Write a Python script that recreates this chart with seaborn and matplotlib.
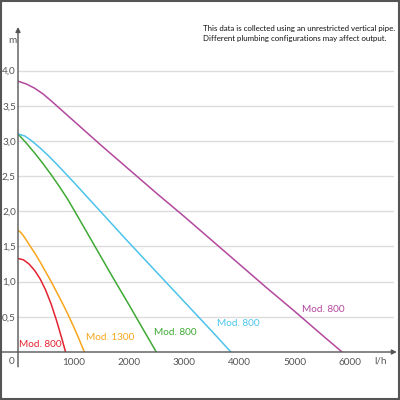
import seaborn as sns
import matplotlib.pyplot as plt
import pandas as pd

# pump curves: flow (l/h) vs head (m)
red_q = [0, 100, 200, 300, 400, 500, 600, 700, 800, 860]
red_h = [1.33, 1.31, 1.25, 1.16, 1.04, 0.88, 0.68, 0.44, 0.17, 0.0]

orange_q = [0, 50, 100, 200, 300, 400, 500, 600, 700, 800, 900, 1000, 1100, 1200]
orange_h = [1.73, 1.70, 1.65, 1.53, 1.41, 1.28, 1.14, 1.00, 0.85, 0.70, 0.54, 0.37, 0.19, 0.0]

green_q = [0, 150, 300, 450, 600, 750, 900, 1100, 1400, 1700, 2000, 2250, 2500]
green_h = [3.10, 2.97, 2.83, 2.68, 2.52, 2.35, 2.17, 1.90, 1.49, 1.08, 0.68, 0.34, 0.0]

blue_q = [0, 125, 250, 400, 550, 700, 1000, 1500, 2000, 2500, 3000, 3500, 3850]
blue_h = [3.10, 3.07, 3.00, 2.90, 2.79, 2.67, 2.42, 1.99, 1.56, 1.14, 0.72, 0.30, 0.0]

purple_q = [0, 150, 300, 450, 600, 800, 1000, 1500, 2000, 2500, 3000, 3500, 4000,
            4500, 5000, 5500, 5860]
purple_h = [3.85, 3.81, 3.75, 3.67, 3.57, 3.43, 3.29, 2.94, 2.60, 2.26, 1.93, 1.59, 1.25,
            0.91, 0.58, 0.24, 0.0]

series = [
    ("Mod. 800", red_q, red_h, "#e52230"),
    ("Mod. 1300", orange_q, orange_h, "#f7a51c"),
    ("Mod. 800", green_q, green_h, "#3ea935"),
    ("Mod. 800", blue_q, blue_h, "#4cc3eb"),
    ("Mod. 800", purple_q, purple_h, "#b3489d"),
]
# label anchor (flow, head) for each curve's text
label_pos = [(18, 0.10), (1230, 0.20), (2460, 0.28), (3600, 0.41), (5135, 0.60)]

x_ticks = [1000, 2000, 3000, 4000, 5000, 6000]
y_ticks = [0.5, 1.0, 1.5, 2.0, 2.5, 3.0, 3.5, 4.0]
y_labels = ["0,5", "1,0", "1,5", "2,0", "2,5", "3,0", "3,5", "4,0"]

note = ("This data is collected using an unrestricted vertical pipe.\n"
        "Different plumbing configurations may affect output.")

sns.set_theme(style="white")
plt.rcParams['font.family'] = ['Lato', 'DejaVu Sans']

fig = plt.figure(figsize=(4, 4), dpi=100)
ax = fig.add_axes([0.045, 0.12, 0.9425, 0.8125])
ax.set_xlim(0, 6817)
ax.set_ylim(0, 4.62)

for y in y_ticks:
    ax.axhline(y, xmin=0, xmax=0.995, color="#dcdcdc", lw=1, zorder=0)

for (name, q, h, col), (lx, ly) in zip(series, label_pos):
    df = pd.DataFrame({"q": q, "h": h})
    sns.lineplot(data=df, x="q", y="h", color=col, lw=1.1, ax=ax, sort=False)
    ax.text(lx, ly, name, color=col, fontsize=7.2, ha="left", va="center")

for s in ax.spines.values():
    s.set_visible(False)

# axis lines with arrows
ax.annotate("", xy=(6850, 0), xytext=(-290, 0), annotation_clip=False,
            arrowprops=dict(arrowstyle="-|>", color="#555555", lw=1,
                            mutation_scale=7, shrinkA=0, shrinkB=0))
ax.annotate("", xy=(0, 4.62), xytext=(0, -0.21), annotation_clip=False,
            arrowprops=dict(arrowstyle="-|>", color="#555555", lw=1,
                            mutation_scale=7, shrinkA=0, shrinkB=0))

ax.set_xticks(x_ticks)
ax.set_xticklabels([str(t) for t in x_ticks])
ax.set_yticks(y_ticks)
ax.set_yticklabels(y_labels)
ax.tick_params(axis="both", length=0, labelsize=7.2, labelcolor="#555555")
ax.tick_params(axis="x", pad=4)
ax.tick_params(axis="y", pad=1.5)
ax.set_xlabel("")
ax.set_ylabel("")

ax.text(-108, -0.128, "0", fontsize=7.2, color="#555555", ha="center", va="center")
ax.text(6550, -0.128, "l/h", fontsize=7.2, color="#555555", ha="center", va="center")
ax.text(-108, 4.43, "m", fontsize=7.2, color="#555555", ha="center", va="center")

# note in the top right; shrink it until it fits the same width as in the reference
note_txt = fig.text(0.5075, 0.915, note, fontsize=6.5, color="#111111", ha="left",
                    va="center", linespacing=1.5)
renderer = fig.canvas.get_renderer()
w = note_txt.get_window_extent(renderer).width
note_txt.set_fontsize(6.5 * 192 / w)

fig.patches.append(plt.Rectangle((0.002, 0.002), 0.996, 0.996, transform=fig.transFigure,
                                 fill=False, edgecolor="#555555", lw=1.5))

fig.savefig("out.png", dpi=100)
